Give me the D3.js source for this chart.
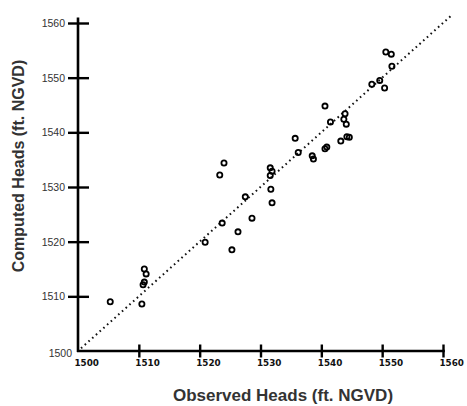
<!DOCTYPE html>
<html>
<head>
<meta charset="utf-8">
<script src="https://cdn.jsdelivr.net/npm/d3@7"></script>
<style>
  html, body { margin: 0; padding: 0; background: #fff; }
  svg { display: block; }
</style>
</head>
<body>
<svg id="chart" width="467" height="406"></svg>
<script>
// observed vs computed heads (ft. NGVD)
const observed = [1505.3, 1510.5, 1510.9, 1511.2, 1510.9, 1510.7, 1520.9, 1523.7, 1525.3, 1526.3,
  1527.5, 1528.6, 1523.3, 1524.0, 1531.6, 1531.9, 1531.6, 1531.7, 1531.9, 1535.7,
  1536.2, 1538.5, 1538.7, 1540.6, 1540.9, 1540.6, 1541.5, 1543.2, 1544.2, 1544.6,
  1543.9, 1543.7, 1544.1, 1548.3, 1549.6, 1550.4, 1550.6, 1551.5, 1551.6];
const computed = [1509.0, 1508.6, 1515.0, 1514.1, 1512.6, 1512.1, 1519.9, 1523.4, 1518.5, 1521.8,
  1528.2, 1524.3, 1532.2, 1534.4, 1533.5, 1532.9, 1532.1, 1529.6, 1527.1, 1538.9,
  1536.3, 1535.7, 1535.1, 1537.0, 1537.3, 1544.8, 1541.9, 1538.4, 1539.2, 1539.1,
  1543.4, 1542.4, 1541.5, 1548.8, 1549.5, 1548.1, 1554.7, 1554.3, 1552.1];
const tickValues = [1500, 1510, 1520, 1530, 1540, 1550, 1560];
const oneToOne = [1500.5, 1561.5];   // ends of the dotted 1:1 line

const svg = d3.select('#chart');
const x = d3.scaleLinear().domain([1500, 1560]).range([78, 443]);
const y = d3.scaleLinear().domain([1500, 1560]).range([351, 23]);

// dotted 1:1 line
svg.append('line')
  .attr('x1', x(oneToOne[0])).attr('y1', y(oneToOne[0]))
  .attr('x2', x(oneToOne[1])).attr('y2', y(oneToOne[1]))
  .attr('stroke', '#111').attr('stroke-width', 2)
  .attr('stroke-dasharray', '1.6,3.4');

// axes
const gx = svg.append('g').attr('transform', `translate(0,${y(1500)})`)
  .call(d3.axisBottom(x).tickValues(tickValues).tickSize(0).tickPadding(9)
    .tickFormat(d3.format('d')));
const gy = svg.append('g').attr('transform', `translate(${x(1500)},0)`)
  .call(d3.axisLeft(y).tickValues(tickValues).tickSize(0).tickPadding(13)
    .tickFormat(d3.format('d')));

[gx, gy].forEach(g => {
  g.select('.domain').remove();
  g.selectAll('.tick').filter(d => d === 1500).select('line').remove();
});
// ticks cross the axis line
gx.selectAll('.tick line').attr('y1', -6.5).attr('y2', 6.5)
  .attr('stroke', '#000').attr('stroke-width', 2.4);
gy.selectAll('.tick line').attr('x1', -10).attr('x2', 11)
  .attr('stroke', '#000').attr('stroke-width', 2.4);

gx.selectAll('.tick text')
  .attr('text-anchor', 'start').attr('dx', -4)
  .attr('font-family', '"DejaVu Sans", sans-serif').attr('font-weight', 'bold')
  .attr('font-size', 8.8).attr('fill', '#111');
gy.selectAll('.tick text')
  .attr('font-family', '"Liberation Sans", Arial, sans-serif')
  .attr('font-size', 10.5).attr('fill', '#333');
gy.selectAll('.tick').filter(d => d === 1500).select('text').attr('dx', 7).attr('dy', '0.55em');

// axis lines
svg.append('line').attr('x1', x(1500)).attr('x2', x(1500)).attr('y1', y(1561)).attr('y2', y(1500) + 1)
  .attr('stroke', '#000').attr('stroke-width', 2.6);
svg.append('line').attr('x1', x(1500) - 1).attr('x2', x(1560.3)).attr('y1', y(1500)).attr('y2', y(1500))
  .attr('stroke', '#000').attr('stroke-width', 2.6);

// points
svg.append('g').selectAll('circle')
  .data(d3.zip(observed, computed)).join('circle')
  .attr('cx', d => x(d[0])).attr('cy', d => y(d[1]))
  .attr('r', 2.6).attr('fill', 'none')
  .attr('stroke', '#000').attr('stroke-width', 1.8);

// axis titles
svg.append('text').attr('x', 283).attr('y', 401)
  .attr('text-anchor', 'middle')
  .attr('font-family', '"Liberation Sans", Arial, sans-serif').attr('font-weight', 'bold')
  .attr('font-size', 17).attr('fill', '#333')
  .text('Observed Heads (ft. NGVD)');
svg.append('text').attr('transform', 'translate(24,166) rotate(-90)')
  .attr('text-anchor', 'middle')
  .attr('font-family', '"Liberation Sans", Arial, sans-serif').attr('font-weight', 'bold')
  .attr('font-size', 16).attr('fill', '#333')
  .text('Computed Heads (ft. NGVD)');
</script>
</body>
</html>
